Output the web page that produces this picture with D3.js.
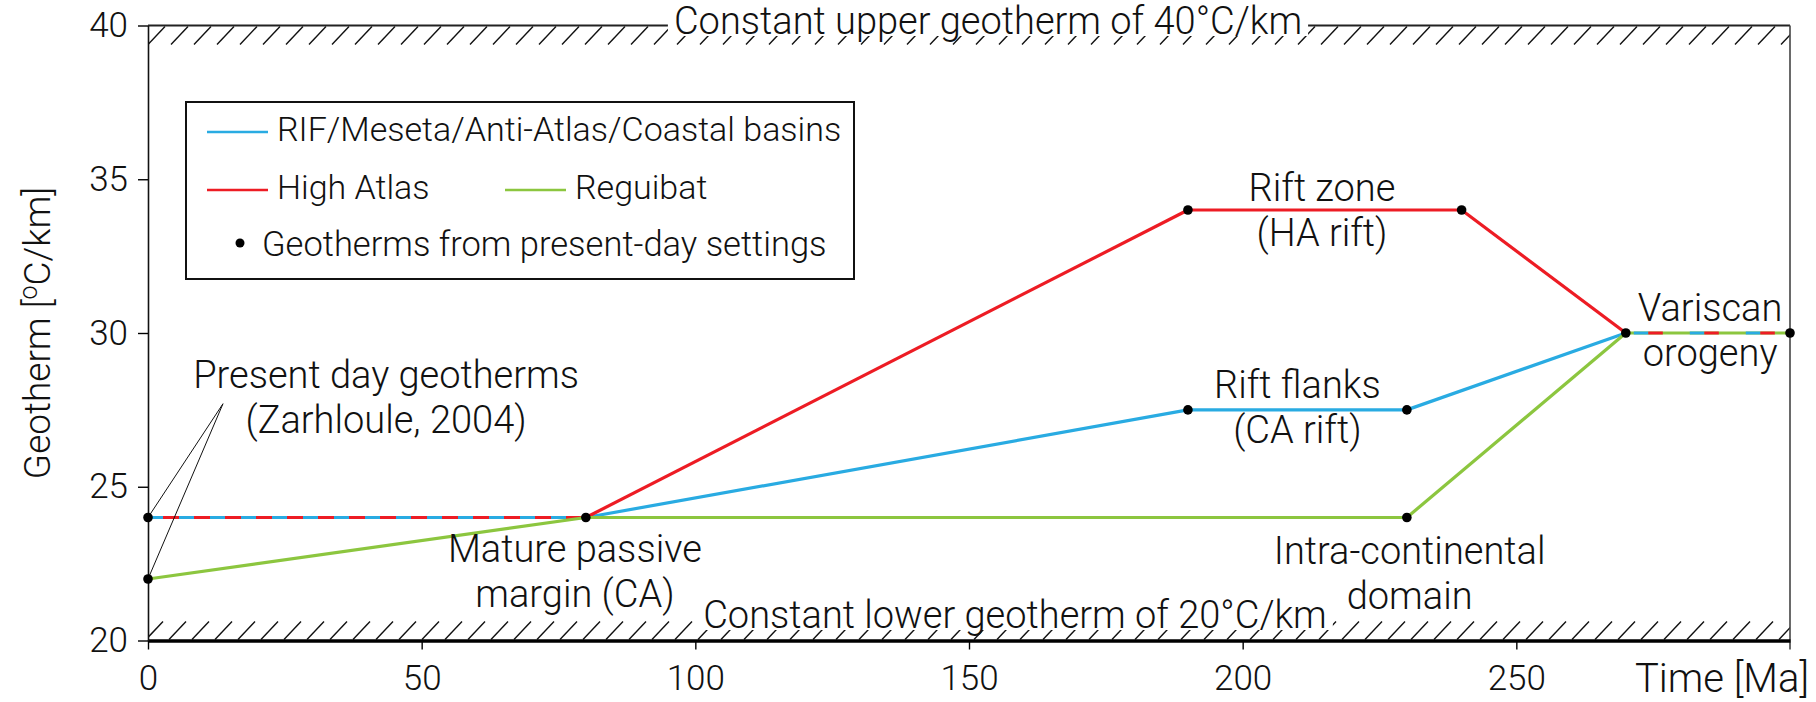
<!DOCTYPE html>
<html>
<head>
<meta charset="utf-8">
<script src="https://cdn.jsdelivr.net/npm/d3@7/dist/d3.min.js"></script>
<style>
body { margin: 0; background: #fff; }
svg text { font-family: Roboto, "Liberation Sans", sans-serif; font-weight: 300; fill: #111; }
</style>
</head>
<body>
<svg id="chart" width="1816" height="702"></svg>
<script>
// ticks
var xTicks = [0, 50, 100, 150, 200, 250];
var yTicks = [20, 25, 30, 35, 40];

// series (time in Ma, geotherm in C/km)
var seriesNames = ["RIF/Meseta/Anti-Atlas/Coastal basins", "High Atlas", "Reguibat"];
var seriesColors = ["#29abe2", "#ed1c24", "#8cc63f"];
var blueTimes = [0, 80, 190, 230, 270, 300];
var blueVals = [24, 24, 27.5, 27.5, 30, 30];
var redTimes = [0, 80, 190, 240, 270, 300];
var redVals = [24, 24, 34, 34, 30, 30];
var greenTimes = [0, 80, 230, 270, 300];
var greenVals = [22, 24, 24, 30, 30];

// geotherms from present-day settings
var dotTimes = [0, 0, 80, 190, 240, 190, 230, 230, 270, 300];
var dotVals = [24, 22, 24, 34, 34, 27.5, 27.5, 24, 30, 30];

var svg = d3.select("#chart");

var x = d3.scaleLinear().domain([0, 300]).range([148, 1790]);
var y = d3.scaleLinear().domain([20, 40]).range([640.5, 25.5]);

var line = d3.line()
    .x(function (d) { return x(d[0]); })
    .y(function (d) { return y(d[1]); });

// hatching along the two limit geotherms
var hatchH = 19, hatchStep = 23;
svg.append("clipPath").attr("id", "frameClip")
    .append("rect")
    .attr("x", x(0)).attr("y", y(40))
    .attr("width", x(300) - x(0)).attr("height", y(20) - y(40));

var hatch = svg.append("g").attr("clip-path", "url(#frameClip)")
    .attr("stroke", "#111").attr("stroke-width", 1.4);
var hx = d3.range(x(0), x(300) + hatchStep, hatchStep);
hatch.selectAll("line.top").data(hx).enter().append("line")
    .attr("x1", function (d) { return d; })
    .attr("y1", y(40) + hatchH)
    .attr("x2", function (d) { return d + 17; })
    .attr("y2", y(40) + 1);
hatch.selectAll("line.bot").data(hx).enter().append("line")
    .attr("x1", function (d) { return d - 2; })
    .attr("y1", y(20) - 1)
    .attr("x2", function (d) { return d + 15; })
    .attr("y2", y(20) - hatchH);

// frame
svg.append("line").attr("x1", x(0)).attr("x2", x(300)).attr("y1", y(40)).attr("y2", y(40))
    .attr("stroke", "#222").attr("stroke-width", 2);
svg.append("line").attr("x1", x(300)).attr("x2", x(300)).attr("y1", y(40)).attr("y2", y(20) + 9)
    .attr("stroke", "#444").attr("stroke-width", 1.6);

// axes
var xAxis = svg.append("g")
    .attr("transform", "translate(0," + y(20) + ")")
    .call(d3.axisBottom(x).tickValues(xTicks).tickSize(9).tickPadding(16).tickSizeOuter(0));
xAxis.select(".domain").attr("stroke", "#000").attr("stroke-width", 3.5);
xAxis.selectAll(".tick line").attr("stroke-width", 1.4);
xAxis.selectAll("text").style("font-size", "35px");

var yAxis = svg.append("g")
    .attr("transform", "translate(" + x(0) + ",0)")
    .call(d3.axisLeft(y).tickValues(yTicks).tickSize(10).tickPadding(10).tickSizeOuter(0));
yAxis.select(".domain").attr("stroke", "#111").attr("stroke-width", 1.6);
yAxis.selectAll(".tick line").attr("stroke-width", 1.4);
yAxis.selectAll("text").style("font-size", "35px");

var yLabel = svg.append("text")
    .attr("transform", "translate(50," + y(30) + ") rotate(-90)")
    .attr("text-anchor", "middle")
    .style("font-size", "37px");
yLabel.append("tspan").text("Geotherm [");
yLabel.append("tspan").attr("dy", -13).style("font-size", "25px").text("o");
yLabel.append("tspan").attr("dy", 13).text("C/km]");

svg.append("text")
    .attr("x", 1809).attr("y", y(20) + 51)
    .attr("text-anchor", "end")
    .style("font-size", "40px")
    .text("Time [Ma]");

// series lines, split into segments so shared segments get interleaved dashes
var series = [
    d3.zip(blueTimes, blueVals),
    d3.zip(redTimes, redVals),
    d3.zip(greenTimes, greenVals)
];
var segments = new Map();
series.forEach(function (pts, si) {
    for (var i = 1; i < pts.length; i++) {
        var key = pts[i - 1].join(",") + "|" + pts[i].join(",");
        if (!segments.has(key)) segments.set(key, { pts: [pts[i - 1], pts[i]], ids: [] });
        segments.get(key).ids.push(si);
    }
});

var lines = svg.append("g").attr("fill", "none").attr("stroke-width", 3.2);
segments.forEach(function (seg) {
    var ids = seg.ids;
    var base = ids[ids.length - 1];
    lines.append("path").attr("d", line(seg.pts)).attr("stroke", seriesColors[base]);
    if (ids.length > 1) {
        var dash = ids.length === 2 ? 15 : 14.5;
        var period = ids.length === 2 ? 31 : 56;
        var lead = ids.length === 2 ? 0 : 8;
        ids.slice(0, -1).forEach(function (si, k) {
            var start = lead + k * dash;
            lines.append("path").attr("d", line(seg.pts))
                .attr("stroke", seriesColors[si])
                .attr("stroke-dasharray", dash + "," + (period - dash))
                .attr("stroke-dashoffset", period - start);
        });
    }
});

// leader lines to the present-day geotherms
var apex = [13.7, 27.7];
svg.append("g").selectAll("line").data([[0, 24], [0, 22]]).enter().append("line")
    .attr("x1", x(apex[0])).attr("y1", y(apex[1]))
    .attr("x2", function (d) { return x(d[0]); })
    .attr("y2", function (d) { return y(d[1]); })
    .attr("stroke", "#111").attr("stroke-width", 1);

svg.append("g").selectAll("circle").data(d3.zip(dotTimes, dotVals)).enter().append("circle")
    .attr("cx", function (d) { return x(d[0]); })
    .attr("cy", function (d) { return y(d[1]); })
    .attr("r", 4.8)
    .attr("fill", "#000");

// annotations
var notes = [
    { t: 43.5, v: 28.2, lines: ["Present day geotherms", "(Zarhloule, 2004)"] },
    { t: 78, v: 22.55, lines: ["Mature passive", "margin (CA)"] },
    { t: 214.5, v: 34.3, lines: ["Rift zone", "(HA rift)"] },
    { t: 210, v: 27.9, lines: ["Rift flanks", "(CA rift)"] },
    { t: 230.5, v: 22.5, lines: ["Intra-continental", "domain"] },
    { t: 285.4, v: 30.4, lines: ["Variscan", "orogeny"] }
];
notes.forEach(function (n) {
    var t = svg.append("text")
        .attr("x", x(n.t)).attr("y", y(n.v))
        .attr("text-anchor", "middle")
        .style("font-size", "38px");
    n.lines.forEach(function (s, i) {
        t.append("tspan").attr("x", x(n.t)).attr("dy", i === 0 ? 0 : 45).text(s);
    });
});

// limit labels with white knock-out behind
function limitLabel(cx, baseline, label) {
    var g = svg.append("g");
    var t = g.append("text").attr("x", cx).attr("y", baseline)
        .attr("text-anchor", "middle").style("font-size", "38px").text(label);
    var b = t.node().getBBox();
    g.insert("rect", "text")
        .attr("x", b.x - 6).attr("y", Math.max(0, b.y))
        .attr("width", b.width + 12).attr("height", baseline + 2 - Math.max(0, b.y))
        .attr("fill", "#fff");
}
limitLabel(988, 34, "Constant upper geotherm of 40\u00b0C/km");
limitLabel(1015, 628, "Constant lower geotherm of 20\u00b0C/km");

// legend
var legend = svg.append("g");
legend.append("rect")
    .attr("x", 186).attr("y", 102).attr("width", 668).attr("height", 177)
    .attr("fill", "#fff").attr("stroke", "#111").attr("stroke-width", 2);
var legendPos = [[207, 132], [207, 190], [505, 190]];
seriesNames.forEach(function (name, i) {
    var p = legendPos[i];
    legend.append("line")
        .attr("x1", p[0]).attr("x2", p[0] + 61).attr("y1", p[1]).attr("y2", p[1])
        .attr("stroke", seriesColors[i]).attr("stroke-width", 2.5);
    legend.append("text")
        .attr("x", p[0] + 70).attr("y", p[1] + 9)
        .style("font-size", "34px")
        .text(name);
});
legend.append("circle").attr("cx", 240).attr("cy", 243).attr("r", 4.5).attr("fill", "#000");
legend.append("text").attr("x", 262).attr("y", 256)
    .style("font-size", "34.5px")
    .text("Geotherms from present-day settings");
</script>
</body>
</html>
